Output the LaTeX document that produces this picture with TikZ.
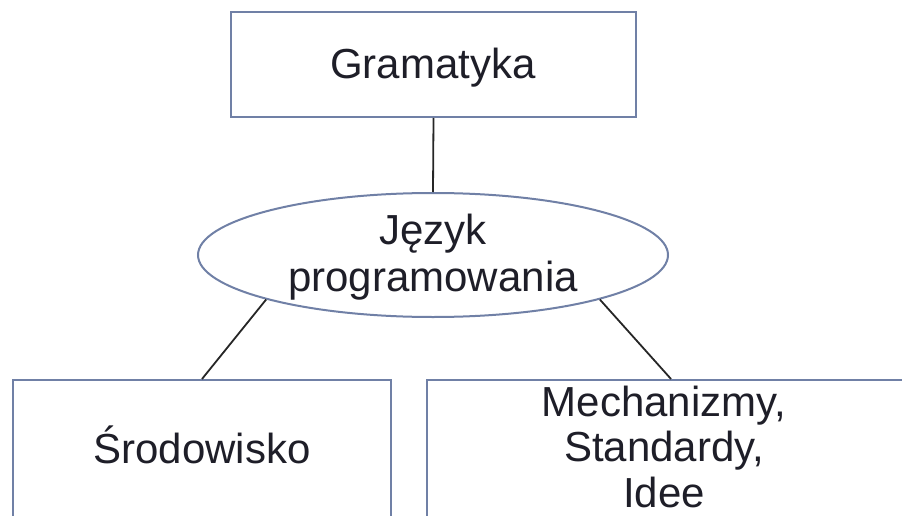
\documentclass[tikz,border=0pt]{standalone}
\usepackage{fontspec}
\setmainfont{Liberation Sans}
\usetikzlibrary{shapes.geometric}
\definecolor{edgeblue}{HTML}{7080A6}
\definecolor{inkdark}{HTML}{1E1E28}
\tikzset{
  box/.style={draw=edgeblue, line width=2pt, fill=white, rectangle, inner sep=0pt},
  oval/.style={draw=edgeblue, line width=2pt, fill=white, ellipse, inner sep=0pt, align=center},
  lbl/.style={inner sep=0pt, align=center, text=inkdark, font=\fontsize{42}{46}\selectfont},
  conn/.style={draw=black!85, line width=1.8pt}
}
\begin{document}
\begin{tikzpicture}[x=1pt,y=-1pt]
\useasboundingbox (0,0) rectangle (902,516);
\clip (0,0) rectangle (902,516);
\node[box, minimum width=405pt, minimum height=105pt] (gram) at (433.5,64.5) {};
\node[oval, minimum width=470pt, minimum height=124pt] (lang) at (433,255) {};
\node[box, minimum width=378pt, minimum height=150pt] (env) at (202,455) {};
\node[box, minimum width=488pt, minimum height=150pt] (mech) at (671,455) {};
\draw[conn] (gram.south) -- (lang.north);
\draw[conn] (lang.south west) -- (env.north);
\draw[conn] (lang.south east) -- (mech.north);
\node[lbl, anchor=base] (gramt) at (433,79) {Gramatyka};
\node[lbl, anchor=base] (langt1) at (433,244) {Język};
\node[lbl, anchor=base] (langt2) at (433,291) {programowania};
\node[lbl, anchor=base] (envt) at (202,463) {Środowisko};
\node[lbl, anchor=base] (mecht1) at (664,416) {Mechanizmy,};
\node[lbl, anchor=base] (mecht2) at (664,461) {Standardy,};
\node[lbl, anchor=base] (mecht3) at (664,507) {Idee};
\end{tikzpicture}
\end{document}
